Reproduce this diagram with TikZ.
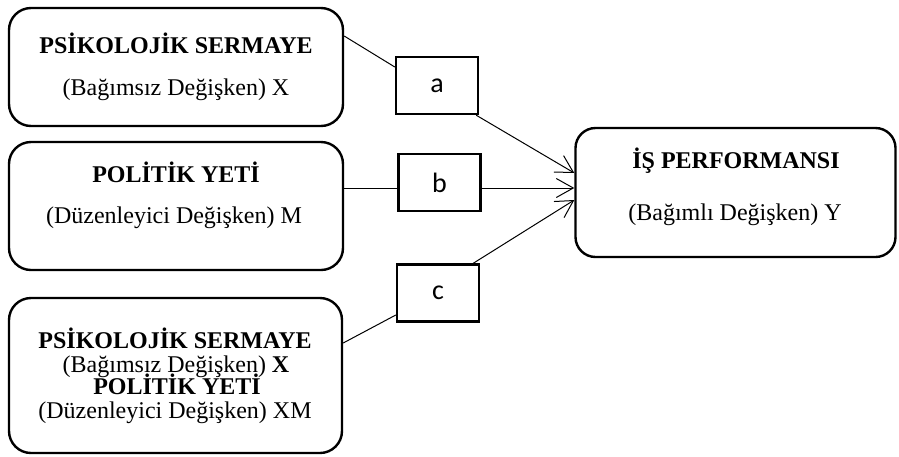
\documentclass[tikz,border=0pt]{standalone}
\usepackage{fontspec}
\setmainfont{Liberation Serif}
\newfontfamily\labelfont{Carlito}
\usetikzlibrary{arrows.meta}
\begin{document}
\begin{tikzpicture}[x=1pt,y=-1pt,
  bigbox/.style={draw,line width=2.4pt,rounded corners=22pt,inner sep=0pt},
  smallbox/.style={draw,line width=2.4pt,inner sep=0pt,minimum width=82pt,minimum height=57pt,font=\labelfont\fontsize{28}{32}\selectfont},
  txt/.style={anchor=base,inner sep=0pt,font=\fontsize{24}{28}\selectfont},
  btxt/.style={anchor=base,inner sep=0pt,font=\fontsize{24}{28}\selectfont\bfseries},
  link/.style={line width=1pt},
  arr/.style={line width=1pt,-{Straight Barb[length=17pt,width=19pt,line width=1pt]}}
]
\useasboundingbox (0,0) rectangle (899,456);
% big boxes
\node[bigbox,minimum width=334pt,minimum height=118pt] (b1) at (176,67) {};
\node[bigbox,minimum width=334pt,minimum height=128pt] (b2) at (176,206) {};
\node[bigbox,minimum width=333pt,minimum height=155pt] (b3) at (175.5,375.5) {};
\node[bigbox,rounded corners=20pt,minimum width=320pt,minimum height=129pt] (y) at (735.5,192.5) {};
% texts
\node[btxt] (t1a) at (176,53) {PSİKOLOJİK SERMAYE};
\node[txt] (t1b) at (176,95) {(Bağımsız Değişken) X};
\node[btxt] (t2a) at (176,182) {POLİTİK YETİ};
\node[txt] (t2b) at (174,223) {(Düzenleyici Değişken) M};
\node[btxt] (t3a) at (175,348) {PSİKOLOJİK SERMAYE};
\node[txt] (t3b) at (176,372) {(Bağımsız Değişken) \textbf{X}};
\node[btxt] (t3c) at (177,394) {POLİTİK YETİ};
\node[txt] (t3d) at (175,418) {(Düzenleyici Değişken) XM};
\node[btxt] (tya) at (736,168) {İŞ PERFORMANSI};
\node[txt] (tyb) at (735,220) {(Bağımlı Değişken) Y};
% small boxes
\node[smallbox] (a) at (437,85.5) {a};
\node[smallbox] (b) at (439.5,182.5) {b};
\node[smallbox] (c) at (438,293) {c};
% connectors
\draw[link] ([yshift=31pt]b1.east) -- ([yshift=18.5pt]a.west);
\draw[arr] ([xshift=-3pt]a.south east) -- ([yshift=19.5pt]y.west);
\draw[link] ([yshift=18pt]b2.east) -- ([yshift=-5.5pt]b.west);
\draw[arr] ([yshift=-5.5pt]b.east) -- ([yshift=4.5pt]y.west);
\draw[link] ([yshift=32.5pt]b3.east) -- ([yshift=-22pt]c.west);
\draw[arr] ([xshift=-7pt]c.north east) -- ([yshift=-7.5pt]y.west);
\end{tikzpicture}
\end{document}
